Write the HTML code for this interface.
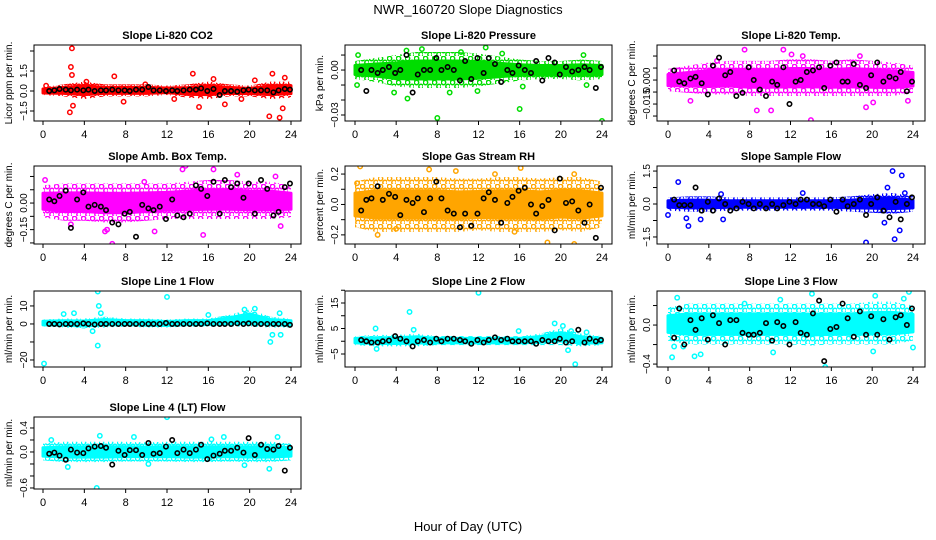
<!DOCTYPE html>
<html><head><meta charset="utf-8"><style>
html,body{margin:0;padding:0;background:#fff;width:936px;height:540px;overflow:hidden}
svg text{font-family:"Liberation Sans",sans-serif;fill:#000}
</style></head><body>
<svg id="chart" width="936" height="540" viewBox="0 0 936 540">
<defs id="defs"></defs>
<text x="468" y="14" text-anchor="middle" font-size="13">NWR_160720  Slope Diagnostics</text>
<text x="468" y="531" text-anchor="middle" font-size="13">Hour of Day (UTC)</text>
</svg>
<script>
// ---------- data ----------
const xTicks=[0,4,8,12,16,20,24];
const titles=["Slope Li-820 CO2","Slope Li-820 Pressure","Slope Li-820 Temp.","Slope Amb. Box Temp.","Slope Gas Stream RH","Slope Sample Flow","Slope Line 1 Flow","Slope Line 2 Flow","Slope Line 3 Flow","Slope Line 4 (LT) Flow"];
const yLabels=["Licor ppm per min.","kPa per min.","degrees C per min.","degrees C per min.","percent per min.","ml/min per min.","ml/min per min.","ml/min per min.","ml/min per min.","ml/min per min."];
const colors=["#ff0000","#00dd00","#ff00ff","#ff00ff","#ffa500","#0000ff","#00ffff","#00ffff","#00ffff","#00ffff"];
const yDomains=[[-2.25,3.45],[-0.034,0.0167],[-0.0256,0.0219],[-0.231,0.209],[-0.26,0.253],[-1.82,1.73],[-23.9,18.3],[-10.1,19.7],[-0.43,0.349],[-0.617,0.583]];
const yTickVals=[[-1.5,0,1.5,3],[-0.03,-0.02,-0.01,0,0.01],[-0.0225,-0.015,-0.0075,0,0.0075,0.015],[-0.225,-0.15,-0.075,0,0.075,0.15],[-0.2,-0.1,0,0.1,0.2],[-1.5,-0.75,0,0.75,1.5],[-20,-10,0,10],[-5,0,5,10,15,20],[-0.4,-0.2,0,0.2],[-0.6,-0.4,-0.2,0,0.2,0.4,0.6]];
const yTickLabels=[["-1.5","0.0","1.5",""],["-0.03","","","0.00",""],["","-0.015","","0.000","",""],["","-0.15","","0.00","",""],["-0.2","","0.0","","0.2"],["-1.5","","0.0","","1.5"],["-20","","0","10"],["-5","","5","","15",""],["-0.4","","0.0",""],["-0.6","","","0.0","","0.4",""]];
const bandX=[0,2,4,6,8,10,12,14,16,18,20,22,24];
const bandLo=[[-0.3,-0.4,-0.6,-0.4,-0.4,-0.4,-0.3,-0.5,-0.6,-0.4,-0.4,-0.6,-0.5],
[-0.006,-0.008,-0.011,-0.012,-0.012,-0.012,-0.011,-0.009,-0.007,-0.006,-0.006,-0.007,-0.006],
[-0.007,-0.008,-0.009,-0.009,-0.01,-0.01,-0.01,-0.01,-0.01,-0.01,-0.01,-0.01,-0.008],
[-0.08,-0.1,-0.1,-0.11,-0.11,-0.1,-0.09,-0.09,-0.09,-0.09,-0.09,-0.09,-0.08],
[-0.15,-0.18,-0.18,-0.18,-0.18,-0.18,-0.17,-0.18,-0.18,-0.18,-0.17,-0.18,-0.15],
[-0.3,-0.35,-0.35,-0.3,-0.3,-0.3,-0.3,-0.3,-0.3,-0.35,-0.4,-0.45,-0.35],
[-1.5,-2,-2.5,-2,-1.5,-2,-2,-1.5,-1.5,-1.5,-1.5,-2,-2],
[-1.5,-2,-2,-2,-1.5,-1.5,-1.5,-1.5,-1.5,-1.5,-1.5,-2,-1.5],
[-0.16,-0.2,-0.2,-0.2,-0.2,-0.2,-0.2,-0.21,-0.2,-0.2,-0.2,-0.2,-0.16],
[-0.14,-0.17,-0.17,-0.17,-0.16,-0.16,-0.16,-0.17,-0.17,-0.16,-0.17,-0.17,-0.14]];
const bandHi=[[0.3,0.5,0.7,0.5,0.5,0.5,0.4,0.5,0.7,0.5,0.4,0.7,0.7],
[0.006,0.008,0.01,0.012,0.012,0.012,0.011,0.009,0.007,0.006,0.006,0.007,0.006],
[0.007,0.009,0.011,0.012,0.012,0.012,0.013,0.013,0.012,0.013,0.012,0.011,0.009],
[0.1,0.11,0.11,0.11,0.11,0.11,0.11,0.12,0.13,0.13,0.12,0.12,0.1],
[0.15,0.18,0.18,0.18,0.18,0.17,0.17,0.18,0.18,0.17,0.18,0.18,0.15],
[0.3,0.35,0.35,0.3,0.3,0.3,0.3,0.3,0.3,0.35,0.45,0.5,0.35],
[2.5,3,3,4,3,3,2.5,3,3,5,8,4,3],
[2,2.5,2.5,3,2,2,2,2,2,3,5,3,2],
[0.18,0.22,0.22,0.22,0.22,0.22,0.22,0.22,0.22,0.22,0.24,0.24,0.2],
[0.14,0.17,0.17,0.17,0.17,0.16,0.17,0.17,0.17,0.17,0.17,0.17,0.14]];
const outX=[[2.8,2.7,2.6,2.9,2.8,14.5,15.1,7.8,21.9,22.9,23.2,23.4,17.6,6.9,20.5,22.2,4.2,9.9,16.5,12.7,19.2,0.3],
[0.3,0.2,5,5.1,8,12.7,16,24,16.3,7.8,10.3,3.8,22.2,22.5,11.9,6.5,9.2,14.3],
[7.5,11.3,14,8.7,10.1,18.8,2.2,13.2,19.4,23.5,4.8,12.1,1.0,20.1],
[6.7,13.5,13.8,16.5,15.5,23,0.2,10.8,6.0,2.7,18.8,22.5,6.2,9.8],
[0.5,2.2,9.8,16.1,18.7,21.3,21.3,7.2,4,15.5,0.2,13.6],
[1,2,19.4,22.2,22,22.7,22.9,21.5,3.2,5.4,0,13.2,1.8,21.2,23.2,5.2],
[0.1,5.3,5.3,5.4,12,22,22.2,22.9,23,3,2,4.8,19.5,20.5,16,5.6],
[12,5.3,21.4,20.7,2,2.1,15.9,5.7,19.4,20.2,21,22.5],
[0.4,0.9,2.6,3.2,10.3,15.4,14.1,20.1,20.3,23.6,24,11,7.5,23.1,1.5,0.6],
[12,5.2,2.4,21.9,17.5,22.7,8.8,5.5,10.2,0.8,16.3,19.5]];
const outY=[[3.2,1.8,-1.6,-1.1,1.2,1.3,-1.2,-0.8,-1.9,-2.0,-1.3,1.0,-1.0,1.1,0.8,1.3,0.7,0.5,0.9,-0.6,-0.6,0.4],
[0.01,-0.01,0.013,-0.019,-0.032,0.015,-0.026,-0.034,-0.011,0.007,0.012,-0.015,0.01,-0.01,-0.014,0.014,-0.015,0.011],
[0.019,0.019,-0.025,-0.019,-0.019,0.015,-0.013,0.015,-0.017,-0.013,0.012,0.016,0.006,-0.014],
[-0.23,0.19,0.21,0.19,-0.18,-0.13,0.13,-0.16,-0.16,-0.12,0.16,0.15,-0.15,0.12],
[0.25,-0.2,0.22,0.24,-0.25,-0.26,0.2,0.23,-0.16,-0.18,0.14,0.2],
[1.0,-1.0,-1.75,-1.6,1.5,-1.2,1.3,0.75,-0.7,-0.7,-0.5,0.5,-0.65,-0.85,0.5,0.45],
[-22,-12,18,10,15,-10,-6,6,-6,6,5.5,-4,8,8.5,5,6],
[19,11.5,-9,-3.5,5,-3,4,4.5,7,6,4,3.5],
[-0.33,0.28,-0.32,-0.3,-0.28,-0.43,0.32,-0.27,0.3,0.34,-0.23,0.26,0.22,0.27,-0.22,-0.22],
[0.58,-0.6,-0.25,-0.28,0.25,0.25,0.25,0.27,-0.2,0.2,0.21,-0.22]];
const blackX=[0.6,1.1,1.6,2.2,2.7,3.3,3.9,4.4,5.0,5.6,6.1,6.7,7.3,7.9,8.4,9.0,9.6,10.2,10.7,11.3,11.9,12.5,13.0,13.6,14.2,14.8,15.3,15.9,16.5,17.1,17.6,18.2,18.8,19.4,19.9,20.5,21.1,21.7,22.3,22.8,23.4,23.9];
const blackY=[[0,0.05,0.15,0.1,0.05,0.1,0.05,0.1,0,0.05,0.05,0.1,0.05,0.05,0,0.1,0.1,0.3,0.05,0.05,0,0.05,0,0.05,0.1,0.1,0.2,0,0.15,-0.3,0,0,-0.05,0.05,0.1,0.05,0.05,0.05,-0.1,0.05,0.15,0.1],
[0,-0.014,0,-0.002,0,0.002,-0.002,0,0.01,-0.015,-0.003,0,0,0.008,0,0.002,0,-0.007,0.006,-0.006,0.008,-0.002,0.008,0.004,-0.008,0,-0.002,0.003,0,-0.002,0.006,-0.007,0.008,0.005,-0.003,0.002,-0.001,0,0.002,0,-0.012,0.002],
[0.006,-0.001,-0.002,0.001,0.002,-0.002,-0.009,0.009,0.014,0.003,0.005,-0.01,-0.008,0.008,0,-0.006,-0.01,-0.001,-0.003,0.008,-0.015,-0.001,0,0.005,0.006,0.008,-0.005,0.009,0.011,-0.001,-0.001,0.01,-0.003,-0.005,0.003,0.011,-0.001,0.002,0.001,0.005,-0.007,-0.001],
[0.02,0.01,0.04,0.07,-0.14,0.02,0.06,-0.02,-0.01,-0.02,-0.04,-0.11,-0.12,-0.06,-0.05,-0.19,-0.01,-0.03,-0.04,-0.02,-0.09,0.02,-0.07,-0.08,-0.06,0.1,0.08,0.04,0.12,-0.06,0.13,0.09,0.11,0.03,0.11,-0.06,0.13,0.08,-0.07,-0.05,0.09,0.11],
[-0.04,0.03,0.04,0.12,0.03,0.07,0.05,-0.07,0.03,0.01,0.04,-0.05,0.04,0.15,0.04,-0.04,-0.06,-0.15,-0.06,-0.14,-0.06,0.04,0.08,0.03,-0.12,0.01,0.05,0.09,0.11,0,-0.06,-0.01,0.03,-0.17,0.17,0.01,0.02,-0.04,-0.12,0,-0.22,0.11],
[0.2,-0.05,-0.05,-0.05,0.75,-0.3,0.1,-0.3,0.25,0,-0.3,-0.2,0.1,0,-0.2,0,-0.2,0,-0.2,-0.05,0.1,0,0.2,0.2,0,0,-0.1,0.2,-0.35,0.2,-0.1,0,0.2,-0.5,0,0.3,-0.3,-0.6,0.1,-0.7,0,0.3],
[0,0,-0.2,0,0,0,0.3,0,-0.3,0,0,0,0,0,0,0,0,0,0,0,0.5,0,0,0,0,0,0,0.3,0,0,0,0,0.3,0,0.3,0,0,0,0,0,0,-0.5],
[0.5,0,-0.5,-0.5,0,0.3,2,1,0,-2,0,0.5,-0.5,1,0,1,1,0.5,0,-1,0.5,-0.5,0.5,1.5,0.5,1,0,0,0,0,-1,0.5,0,0,1,-0.5,0,4.5,-0.5,1,0,0.5],
[-0.13,0.17,-0.2,0.05,-0.05,0.07,-0.15,0.1,0.02,-0.2,0.05,0.05,-0.08,-0.1,-0.1,-0.08,0.02,-0.16,0.03,-0.01,-0.2,0.03,-0.08,-0.1,0.12,0.25,-0.37,-0.04,-0.02,0.22,0.07,-0.12,0.14,-0.1,0.09,-0.1,0.06,-0.15,0.08,0.1,0.0,0.17],
[-0.03,-0.01,-0.06,-0.13,0.04,-0.01,-0.02,0.06,0.09,0.1,0.07,-0.21,0.02,-0.05,0.03,0.03,-0.05,0.15,-0.03,-0.02,0.09,0.2,-0.02,0.04,-0.02,0.04,0.12,-0.12,-0.06,-0.03,0.02,0.02,0.07,-0.01,0.23,-0.05,0.12,0.05,0.04,0.1,-0.31,0.07]];
// ---------- layout ----------
const colBox=[[34,301],[345,612],[657,925]];
const colX=[[43,291],[355,602],[668,913]];
const rowBox=[[45,121],[166,244],[291,367],[417,489]];
const NS="http://www.w3.org/2000/svg";
const svg=document.getElementById('chart');
const defs=document.getElementById('defs');
function mk(tag,attrs,parent){const e=document.createElementNS(NS,tag);for(const k in attrs)e.setAttribute(k,attrs[k]);parent.appendChild(e);return e;}
function slug(s){return s.toLowerCase().replace(/[^a-z0-9]+/g,'-').replace(/^-|-$/g,'');}
for(let p=0;p<10;p++){
  const c=p%3,r=Math.floor(p/3);
  const [L,R]=colBox[c],[T,B]=rowBox[r],[x0,x24]=colX[c];
  const [yMin,yMax]=yDomains[p];
  const sx=v=>x0+(x24-x0)*v/24;
  const sy=v=>B-(B-T)*(v-yMin)/(yMax-yMin);
  const pat=mk('pattern',{id:'pt'+p,width:9,height:8,patternUnits:'userSpaceOnUse'},defs);
  mk('circle',{cx:2.5,cy:2.5,r:2.2,fill:'none',stroke:colors[p],'stroke-width':1.5},pat);
  mk('circle',{cx:7,cy:6.5,r:2.2,fill:'none',stroke:colors[p],'stroke-width':1.5},pat);
  const g=mk('g',{},svg);
  
  
  const clip=mk('clipPath',{id:'cl'+p},g);mk('rect',{x:L,y:T,width:R-L,height:B-T},clip);
  const dg=mk('g',{'clip-path':'url(#cl'+p+')'},g);
  const outerPts=bandX.map((x,i)=>sx(x)+','+sy(bandHi[p][i])).concat(bandX.slice().reverse().map((x,i)=>sx(x)+','+sy(bandLo[p][bandX.length-1-i])));
  const band=mk('polygon',{points:outerPts.join(' '),fill:'url(#pt'+p+')'},dg);
  
  
  const mid=i=>(bandHi[p][i]+bandLo[p][i])/2;
  const corePts=bandX.map((x,i)=>sx(x)+','+sy(mid(i)+(bandHi[p][i]-mid(i))*0.5)).concat(bandX.slice().reverse().map((x,i)=>{const j=bandX.length-1-i;return sx(x)+','+sy(mid(j)+(bandLo[p][j]-mid(j))*0.5);}));
  const core=mk('polygon',{points:corePts.join(' '),fill:colors[p],stroke:colors[p],'stroke-width':3,'stroke-linejoin':'round'},dg);
  
  
  for(let i=0;i<outX[p].length;i++){
    const o=mk('circle',{cx:sx(outX[p][i]),cy:sy(outY[p][i]),r:2.2,fill:'none',stroke:colors[p],'stroke-width':1.5},dg);
    
    
  }
  for(let i=0;i<blackX.length;i++){
    const b=mk('circle',{cx:sx(blackX[i]),cy:sy(blackY[p][i]),r:2.2,fill:'none',stroke:'#000','stroke-width':1.6},dg);
    
    
  }
  mk('rect',{x:L,y:T,width:R-L,height:B-T,fill:'none',stroke:'#000','stroke-width':1},g);
  const t=mk('text',{x:(L+R)/2,y:T-6,'text-anchor':'middle','font-size':11,'font-weight':'bold'},g);t.textContent=titles[p];
  
  
  const yl=mk('text',{x:0,y:0,transform:`translate(${L-22},${(T+B)/2}) rotate(-90)`,'text-anchor':'middle','font-size':10},g);yl.textContent=yLabels[p];
  
  
  for(const v of xTicks){
    const x=sx(v);mk('line',{x1:x,x2:x,y1:B,y2:B+4,stroke:'#000'},g);
    const tl=mk('text',{x:x,y:B+17,'text-anchor':'middle','font-size':11},g);tl.textContent=v;
    
    
  }
  mk('line',{x1:sx(0),x2:sx(24),y1:B,y2:B,stroke:'#000'},g);
  yTickVals[p].forEach((v,i)=>{
    const y=sy(v);if(y<T-1||y>B+1)return;
    mk('line',{x1:L-4,x2:L,y1:y,y2:y,stroke:'#000'},g);
    const lab=yTickLabels[p][i];
    if(lab){const tl=mk('text',{x:0,y:0,transform:`translate(${L-7},${y}) rotate(-90)`,'text-anchor':'middle','font-size':10},g);tl.textContent=lab.replace('-','\u2212');
      
      }
  });
}
</script>
</body></html>
